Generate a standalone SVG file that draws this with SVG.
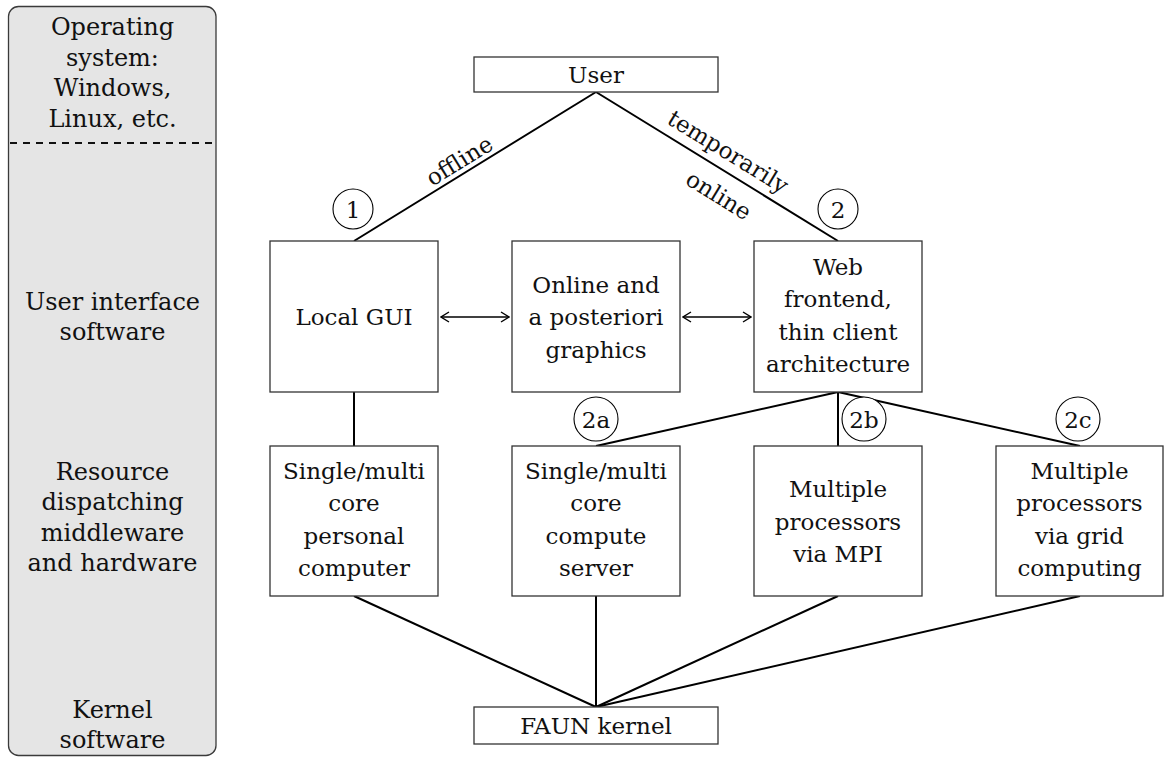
<svg xmlns="http://www.w3.org/2000/svg" width="1165" height="758" viewBox="0 0 1165 758">
  <style>
    .panel { fill: #e5e5e5; stroke: #3a3a3a; stroke-width: 1.3; }
    .sep { stroke: #111; stroke-width: 1.8; stroke-dasharray: 7 6; }
    .side { font-family: "DejaVu Serif", "Liberation Serif", serif; font-size: 24px; fill: #111; text-anchor: middle; }
    .box { fill: #fff; stroke: #333; stroke-width: 1.3; }
    .lbl { font-family: "DejaVu Serif", "Liberation Serif", serif; font-size: 23px; fill: #111; text-anchor: middle; }
    .edge { stroke: #000; stroke-width: 2; fill: none; }
    .arrow { stroke: #000; stroke-width: 1.5; fill: none; }
    .tag { fill: #fff; stroke: #000; stroke-width: 1.1; }
  </style>
  <defs>
    <marker id="barb" viewBox="0 0 10 12" refX="9" refY="6" markerWidth="10" markerHeight="12" markerUnits="userSpaceOnUse" orient="auto-start-reverse">
      <path d="M1,1 L9,6 L1,11" fill="none" stroke="#000" stroke-width="1.4"/>
    </marker>
  </defs>

  <!-- layer legend on the left -->
  <g id="layers">
    <rect class="panel" x="8.5" y="6.5" width="207.5" height="749" rx="10" ry="10"/>
    <line class="sep" x1="10" y1="143" x2="212" y2="143"/>
    <text class="side" x="112.5" y="35">Operating</text>
    <text class="side" x="112.5" y="65.5">system:</text>
    <text class="side" x="112.5" y="96">Windows,</text>
    <text class="side" x="112.5" y="127">Linux, etc.</text>
    <text class="side" x="112.5" y="310">User interface</text>
    <text class="side" x="112.5" y="340">software</text>
    <text class="side" x="112.5" y="480">Resource</text>
    <text class="side" x="112.5" y="510">dispatching</text>
    <text class="side" x="112.5" y="541">middleware</text>
    <text class="side" x="112.5" y="571">and hardware</text>
    <text class="side" x="112.5" y="718">Kernel</text>
    <text class="side" x="112.5" y="748">software</text>
  </g>

  <!-- connectors -->
  <g id="connectors">
    <line class="edge" x1="596" y1="92" x2="354" y2="241"/>
    <line class="edge" x1="596" y1="92" x2="838" y2="241"/>
    <line class="edge" x1="354" y1="392" x2="354" y2="446"/>
    <line class="edge" x1="838" y1="392" x2="596" y2="446"/>
    <line class="edge" x1="838" y1="392" x2="838" y2="446"/>
    <line class="edge" x1="838" y1="392" x2="1080" y2="446"/>
    <line class="edge" x1="354" y1="596" x2="596" y2="707"/>
    <line class="edge" x1="596" y1="596" x2="596" y2="707"/>
    <line class="edge" x1="838" y1="596" x2="596" y2="707"/>
    <line class="edge" x1="1080" y1="596" x2="596" y2="707"/>
    <line class="arrow" x1="441" y1="317" x2="509" y2="317" marker-start="url(#barb)" marker-end="url(#barb)"/>
    <line class="arrow" x1="683" y1="317" x2="751" y2="317" marker-start="url(#barb)" marker-end="url(#barb)"/>
    <!-- edge labels -->
    <text class="lbl" transform="translate(463.5,167.5) rotate(-31.6)">offline</text>
    <text class="lbl" transform="translate(724,158.5) rotate(31.6)">temporarily</text>
    <text class="lbl" transform="translate(714.5,202) rotate(31.6)">online</text>
  </g>

  <!-- step markers -->
  <g id="tag-1"><circle class="tag" cx="353" cy="209" r="20"/><text class="lbl" x="353" y="217.5">1</text></g>
  <g id="tag-2"><circle class="tag" cx="838" cy="209" r="20"/><text class="lbl" x="838" y="217.5">2</text></g>
  <g id="tag-2a"><circle class="tag" cx="596" cy="419" r="22"/><text class="lbl" x="596" y="427.5">2a</text></g>
  <g id="tag-2b"><circle class="tag" cx="864" cy="419" r="22"/><text class="lbl" x="864" y="427.5">2b</text></g>
  <g id="tag-2c"><circle class="tag" cx="1078" cy="419" r="22"/><text class="lbl" x="1078" y="427.5">2c</text></g>

  <!-- nodes -->
  <g id="user">
    <rect class="box" x="474" y="57" width="244" height="35"/>
    <text class="lbl" x="596" y="83">User</text>
  </g>
  <g id="local-gui">
    <rect class="box" x="270" y="241" width="168" height="151"/>
    <text class="lbl" x="354" y="325">Local GUI</text>
  </g>
  <g id="graphics">
    <rect class="box" x="512" y="241" width="168" height="151"/>
    <text class="lbl" x="596" y="292.5">Online and</text>
    <text class="lbl" x="596" y="325">a posteriori</text>
    <text class="lbl" x="596" y="357.5">graphics</text>
  </g>
  <g id="web-frontend">
    <rect class="box" x="754" y="241" width="168" height="151"/>
    <text class="lbl" x="838" y="274.5">Web</text>
    <text class="lbl" x="838" y="306.5">frontend,</text>
    <text class="lbl" x="838" y="339.5">thin client</text>
    <text class="lbl" x="838" y="371.5">architecture</text>
  </g>
  <g id="personal-computer">
    <rect class="box" x="270" y="446" width="168" height="150"/>
    <text class="lbl" x="354" y="479">Single/multi</text>
    <text class="lbl" x="354" y="511">core</text>
    <text class="lbl" x="354" y="544">personal</text>
    <text class="lbl" x="354" y="576">computer</text>
  </g>
  <g id="compute-server">
    <rect class="box" x="512" y="446" width="168" height="150"/>
    <text class="lbl" x="596" y="479">Single/multi</text>
    <text class="lbl" x="596" y="511">core</text>
    <text class="lbl" x="596" y="544">compute</text>
    <text class="lbl" x="596" y="576">server</text>
  </g>
  <g id="mpi">
    <rect class="box" x="754" y="446" width="168" height="150"/>
    <text class="lbl" x="838" y="497">Multiple</text>
    <text class="lbl" x="838" y="529.5">processors</text>
    <text class="lbl" x="838" y="562">via MPI</text>
  </g>
  <g id="grid">
    <rect class="box" x="996" y="446" width="167" height="150"/>
    <text class="lbl" x="1079.5" y="479">Multiple</text>
    <text class="lbl" x="1079.5" y="511">processors</text>
    <text class="lbl" x="1079.5" y="544">via grid</text>
    <text class="lbl" x="1079.5" y="576">computing</text>
  </g>
  <g id="faun-kernel">
    <rect class="box" x="474" y="707" width="244" height="37"/>
    <text class="lbl" x="596" y="734">FAUN kernel</text>
  </g>
</svg>
